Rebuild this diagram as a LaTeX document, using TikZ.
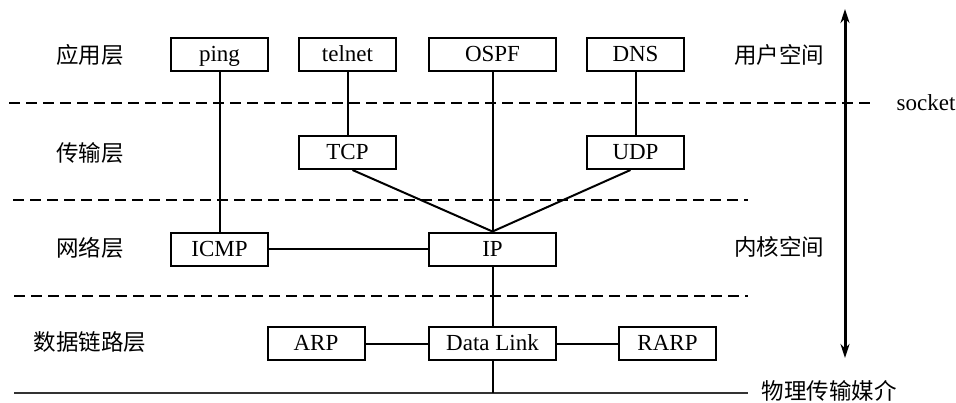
\documentclass[tikz,border=0pt]{standalone}
\usepackage{fontspec}
\setmainfont{Liberation Serif}
\newfontfamily\cjk{Noto Sans CJK SC}
\usetikzlibrary{arrows.meta}
\begin{document}
\begin{tikzpicture}[x=1pt,y=-1pt,
  box/.style={draw, line width=2pt, minimum height=33pt, inner sep=0pt,
    text height=14.5pt, text depth=0pt,
    font=\fontsize{23}{23}\selectfont},
  narrow/.style={box, minimum width=97pt},
  wide/.style={box, minimum width=127pt},
  link/.style={line width=2pt},
  sep/.style={line width=2pt, dash pattern=on 11pt off 6pt},
  lbl/.style={font=\cjk\fontsize{22.5}{23}\selectfont, inner sep=0pt},
  txt/.style={font=\fontsize{23}{23}\selectfont, inner sep=0pt}]
\useasboundingbox (0,0) rectangle (956,402);

% protocol boxes
\node[narrow] (ping)   at (219.5,54.5) {ping};
\node[narrow] (telnet) at (347.5,54.5) {telnet};
\node[wide]   (ospf)   at (492.5,54.5) {OSPF};
\node[narrow] (dns)    at (635.5,54.5) {DNS};
\node[narrow] (tcp)    at (347.5,152.5) {TCP};
\node[narrow] (udp)    at (635.5,152.5) {UDP};
\node[narrow] (icmp)   at (219.5,249) {ICMP};
\node[wide]   (ip)     at (492.5,249) {IP};
\node[narrow] (arp)    at (316,343.5) {ARP};
\node[wide]   (dl)     at (492.5,343.5) {Data Link};
\node[narrow] (rarp)   at (667.5,343.5) {RARP};

% layer separators and physical medium
\coordinate (s1a) at (9,103);   \coordinate (s1b) at (872,103);
\coordinate (s2a) at (13,200);  \coordinate (s2b) at (748,200);
\coordinate (s3a) at (14,296);  \coordinate (s3b) at (748,296);
\coordinate (gnda) at (14,393); \coordinate (gndb) at (748,393);
\draw[sep] (s1a) -- (s1b);
\draw[sep] (s2a) -- (s2b);
\draw[sep] (s3a) -- (s3b);
\draw[line width=1.6pt, black!80] (gnda) -- (gndb);

% connectors
\draw[link] (ping.south) -- (icmp.north);
\draw[link] (telnet.south) -- (tcp.north);
\draw[link] (ospf.south) -- (ip.north);
\draw[link] (dns.south) -- (udp.north);
\draw[link] ([xshift=5pt]tcp.south) -- (ip.north);
\draw[link] ([xshift=-5pt]udp.south) -- (ip.north);
\draw[link] (icmp.east) -- (ip.west);
\draw[link] (ip.south) -- (dl.north);
\draw[link] (arp.east) -- (dl.west);
\draw[link] (dl.east) -- (rarp.west);
\draw[link] (dl.south) -- (dl.south |- gnda);

% user/kernel space arrow
\coordinate (atop) at (845,9);
\coordinate (abot) at (845,358);
\draw[line width=3pt, {Stealth[length=14pt,width=9pt]}-{Stealth[length=14pt,width=9pt]}] (atop) -- (abot);

% layer names
\node[lbl] (l1) at (90,55) {应用层};
\node[lbl] (l2) at (90,153) {传输层};
\node[lbl] (l3) at (90,248) {网络层};
\node[lbl] (l4) at (90,342) {数据链路层};
\node[lbl] (us) at (779,55) {用户空间};
\node[lbl] (ks) at (779,247) {内核空间};
\node[txt] (sock) at (926,103) {socket};
\node[lbl] (phy) at (829,391) {物理传输媒介};
\end{tikzpicture}
\end{document}
